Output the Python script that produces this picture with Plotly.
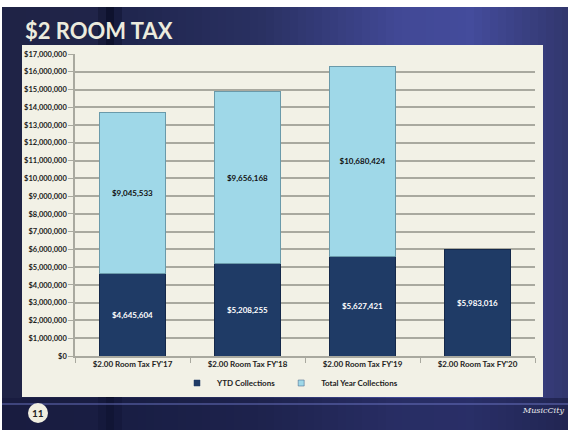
import plotly.graph_objects as go

categories = ["$2.00 Room Tax FY'17", "$2.00 Room Tax FY'18", "$2.00 Room Tax FY'19", "$2.00 Room Tax FY'20"]
ytd_collections = [4645604, 5208255, 5627421, 5983016]
total_year_collections = [9045533, 9656168, 10680424, None]
y_ticks = list(range(0, 17000001, 1000000))

W, H = 568, 430
L, R, T, B = 75, 33, 54, 74
PW, PH = W - L - R, H - T - B

DARK = "#1f3b66"
LIGHT = "#9fd8e8"


def px(x):
    return (x - L) / PW


def py(y):
    return (H - B - y) / PH


def fmt(v):
    return "" if v is None else "${:,}".format(v)


FONT = "Lato"

fig = go.Figure()
fig.add_trace(go.Bar(
    x=categories, y=ytd_collections, name="YTD Collections", showlegend=False,
    marker=dict(color=DARK, line=dict(color="#14284a", width=1)),
    text=[fmt(v) for v in ytd_collections], textposition="inside",
    insidetextanchor="middle", textangle=0, constraintext="none",
    textfont=dict(color="#ffffff", size=8, family=FONT, weight="bold"),
    hoverinfo="skip",
))
fig.add_trace(go.Bar(
    x=categories, y=total_year_collections, name="Total Year Collections", showlegend=False,
    marker=dict(color=LIGHT, line=dict(color="#6a9aaa", width=1)),
    text=[fmt(v) for v in total_year_collections], textposition="inside",
    insidetextanchor="middle", textangle=0, constraintext="none",
    textfont=dict(color="#111111", size=8, family=FONT, weight="bold"),
    hoverinfo="skip",
))
for name, c in [("YTD Collections", DARK), ("Total Year Collections", LIGHT)]:
    fig.add_trace(go.Scatter(x=[None], y=[None], mode="markers", name=name,
                             marker=dict(symbol="square", size=6, color=c,
                                         line=dict(color="#3a5a80" if c == LIGHT else DARK, width=0.5))))

shapes = []
stops = [(0, (31, 35, 70)), (95, (33, 37, 74)), (110, (14, 18, 46)), (125, (32, 38, 78)),
         (260, (42, 49, 98)), (400, (66, 73, 150)), (470, (68, 76, 156)), (568, (50, 55, 110))]


def col_at(x):
    for (x0, c0), (x1, c1) in zip(stops[:-1], stops[1:]):
        if x0 <= x <= x1:
            t = (x - x0) / (x1 - x0) if x1 > x0 else 0
            return "rgb({},{},{})".format(*[int(a + (b - a) * t) for a, b in zip(c0, c1)])
    return "rgb(50,55,110)"


step = 8
for x in range(2, W, step):
    shapes.append(dict(type="rect", xref="paper", yref="paper", layer="below",
                       x0=px(x), x1=px(min(x + step + 0.5, W)), y0=py(H), y1=py(7),
                       line=dict(width=0), fillcolor=col_at(x + step / 2)))
shapes.append(dict(type="rect", xref="paper", yref="paper", layer="below",
                   x0=px(2), x1=px(W), y0=py(H), y1=py(398),
                   line=dict(width=0), fillcolor="rgba(20,24,60,0.55)"))
shapes.append(dict(type="line", xref="paper", yref="paper", layer="below",
                   x0=px(2), x1=px(W), y0=py(404), y1=py(404),
                   line=dict(width=2, color="rgba(110,120,200,0.45)")))
shapes.append(dict(type="rect", xref="paper", yref="paper", layer="below",
                   x0=px(22), x1=px(543), y0=py(397), y1=py(45),
                   line=dict(width=0), fillcolor="#f2f1e6"))
shapes.append(dict(type="circle", xref="paper", yref="paper",
                   x0=px(28), x1=px(48), y0=py(423), y1=py(403),
                   line=dict(width=0), fillcolor="#f0eee0"))

annotations = [
    dict(text="$2 ROOM TAX", xref="paper", yref="paper", x=px(23), y=py(31),
         xanchor="left", yanchor="middle", showarrow=False,
         font=dict(family=FONT, size=22, color="#ecebdd", weight="bold")),
    dict(text="11", xref="paper", yref="paper", x=px(38), y=py(413),
         xanchor="center", yanchor="middle", showarrow=False,
         font=dict(family=FONT, size=10, color="#222222", weight="bold")),
    dict(text="<i>MusicCity</i>", xref="paper", yref="paper", x=px(566), y=py(410),
         xanchor="right", yanchor="middle", showarrow=False,
         font=dict(family="DejaVu Serif", size=8, color="#eeeeee")),
]

fig.update_layout(
    width=W, height=H,
    margin=dict(l=L, r=R, t=T, b=B, pad=0),
    paper_bgcolor="#ffffff", plot_bgcolor="#f2f1e6",
    barmode="stack", bargap=0.43,
    shapes=shapes, annotations=annotations,
    showlegend=True,
    legend=dict(orientation="h", x=px(290), xanchor="center", y=py(383), yanchor="middle",
                traceorder="normal", bgcolor="rgba(0,0,0,0)",
                font=dict(family=FONT, size=8, color="#222222", weight="bold"),
                itemwidth=30, itemclick=False, itemdoubleclick=False),
    font=dict(family=FONT),
)
fig.update_yaxes(range=[0, 17000000], tickvals=y_ticks, tickformat="$,.0f",
                 showgrid=True, gridcolor="#a9a99f", gridwidth=1.5,
                 showline=True, linecolor="#a9a99f", linewidth=1.5,
                 ticks="outside", ticklen=5, tickcolor="#a9a99f",
                 tickfont=dict(family=FONT, size=7.5, color="#222222", weight="bold"),
                 zeroline=False, fixedrange=True)
fig.update_xaxes(showline=True, linecolor="#a9a99f", linewidth=1.5,
                 ticks="outside", ticklen=5, tickcolor="#a9a99f", tickson="boundaries",
                 tickfont=dict(family=FONT, size=8, color="#222222", weight="bold"),
                 fixedrange=True)

fig.write_html("out.html", config={"displayModeBar": False},
               post_script="document.body.style.margin='0';")
